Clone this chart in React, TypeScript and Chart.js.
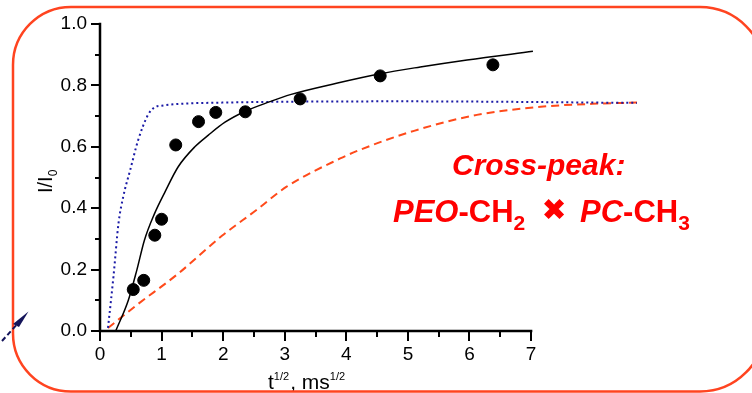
import React, { useEffect, useRef } from "react";
import { Chart, registerables } from "chart.js";

Chart.register(...registerables);

// Measured cross-peak intensities (t^1/2 in ms^1/2, I/I0)
const measuredX = [0.54, 0.71, 0.89, 1.0, 1.23, 1.6, 1.88, 2.36, 3.25, 4.55, 6.38];
const measuredY = [0.135, 0.165, 0.312, 0.364, 0.606, 0.682, 0.712, 0.714, 0.756, 0.831, 0.867];

// Fitted build-up curve (solid)
const fitX = [0.255, 0.46, 0.6, 0.72, 0.88, 1.06, 1.27, 1.54, 1.76, 2.03, 2.35, 2.76, 3.09, 3.84, 4.55, 5.2, 5.96, 7.03];
const fitY = [0.0, 0.1, 0.2, 0.295, 0.38, 0.455, 0.535, 0.6, 0.638, 0.68, 0.715, 0.747, 0.77, 0.807, 0.838, 0.86, 0.883, 0.911];

// Fast-exchange model (dotted)
const fastX = [0.13, 0.22, 0.3, 0.38, 0.49, 0.62, 0.78, 0.89, 1.0, 2.0, 5.0, 8.72];
const fastY = [0.01, 0.18, 0.35, 0.44, 0.524, 0.622, 0.704, 0.729, 0.734, 0.744, 0.748, 0.743];

// Slow-exchange model (dashed)
const slowX = [0.13, 0.6, 1.27, 1.98, 2.54, 3.03, 3.9, 4.22, 5.1, 6.12, 7.2, 8.0, 8.72];
const slowY = [0.01, 0.085, 0.187, 0.31, 0.394, 0.47, 0.562, 0.59, 0.652, 0.704, 0.731, 0.74, 0.744];

const xTicks = [0, 1, 2, 3, 4, 5, 6, 7];
const xMinorTicks = [0.5, 1.5, 2.5, 3.5, 4.5, 5.5, 6.5];
const yTicks = [0, 0.2, 0.4, 0.6, 0.8, 1.0];
const yMinorTicks = [0.1, 0.3, 0.5, 0.7, 0.9];
const xAxisEnd = 7;
const xDataEnd = 8.72;

const pairs = (xs: number[], ys: number[]) => xs.map((x, i) => ({ x, y: ys[i] }));

const SANS = '"Liberation Sans", Arial, sans-serif';

type Run = { text: string; font: string; dy?: number; gap?: number };

function drawRuns(ctx: CanvasRenderingContext2D, x: number, y: number, runs: Run[]) {
  let cx = x;
  for (const r of runs) {
    ctx.font = r.font;
    ctx.fillText(r.text, cx, y + (r.dy || 0));
    cx += ctx.measureText(r.text).width + (r.gap || 0);
  }
  return cx;
}

const decorPlugin = {
  id: "decor",
  afterDraw(chart: any) {
    const ctx: CanvasRenderingContext2D = chart.ctx;
    const xs = chart.scales.x;
    const ys = chart.scales.y;
    const x0 = xs.getPixelForValue(0);
    const x7 = xs.getPixelForValue(xAxisEnd);
    const y0 = ys.getPixelForValue(0);
    const y1 = ys.getPixelForValue(1);

    ctx.save();
    // axis lines
    ctx.strokeStyle = "#000";
    ctx.lineWidth = 2.5;
    ctx.lineCap = "square";
    ctx.beginPath();
    ctx.moveTo(x0, y1);
    ctx.lineTo(x0, y0);
    ctx.lineTo(x7, y0);
    ctx.stroke();

    // tick marks
    ctx.lineCap = "butt";
    ctx.lineWidth = 2;
    ctx.beginPath();
    for (const v of yTicks) {
      const p = Math.round(ys.getPixelForValue(v));
      ctx.moveTo(x0 - 9, p);
      ctx.lineTo(x0, p);
    }
    for (const v of yMinorTicks) {
      const p = Math.round(ys.getPixelForValue(v));
      ctx.moveTo(x0 - 5, p);
      ctx.lineTo(x0, p);
    }
    for (const v of xTicks) {
      const p = Math.round(xs.getPixelForValue(v));
      ctx.moveTo(p, y0);
      ctx.lineTo(p, y0 + 10);
    }
    for (const v of xMinorTicks) {
      const p = Math.round(xs.getPixelForValue(v));
      ctx.moveTo(p, y0);
      ctx.lineTo(p, y0 + 6);
    }
    ctx.stroke();

    // axis titles
    ctx.fillStyle = "#000";
    ctx.textBaseline = "alphabetic";
    ctx.textAlign = "left";
    drawRuns(ctx, 268, 389, [
      { text: "t", font: `21px ${SANS}` },
      { text: "1/2", font: `11px ${SANS}`, dy: -9, gap: 1 },
      { text: ", ms", font: `21px ${SANS}` },
      { text: "1/2", font: `11px ${SANS}`, dy: -9 },
    ]);

    ctx.save();
    ctx.translate(52, 193);
    ctx.rotate(-Math.PI / 2);
    drawRuns(ctx, 0, 0, [
      { text: "I/I", font: `20px ${SANS}` },
      { text: "0", font: `12px ${SANS}`, dy: 5 },
    ]);
    ctx.restore();

    // annotation
    ctx.fillStyle = "#ff0000";
    ctx.font = `italic bold 30px ${SANS}`;
    ctx.fillText("Cross-peak:", 452, 175);
    drawRuns(ctx, 393, 222, [
      { text: "PEO", font: `italic bold 31px ${SANS}` },
      { text: "-CH", font: `bold 31px ${SANS}` },
      { text: "2", font: `bold 21px ${SANS}`, dy: 8 },
    ]);
    ctx.textAlign = "center";
    ctx.textBaseline = "middle";
    ctx.font = `bold 30px "DejaVu Sans", sans-serif`;
    ctx.fillText("\u2716", 554, 212);
    ctx.textAlign = "left";
    ctx.textBaseline = "alphabetic";
    drawRuns(ctx, 580, 222, [
      { text: "PC", font: `italic bold 31px ${SANS}` },
      { text: "-CH", font: `bold 31px ${SANS}` },
      { text: "3", font: `bold 21px ${SANS}`, dy: 8 },
    ]);

    // rounded frame, running off the right edge
    ctx.strokeStyle = "#ff4420";
    ctx.lineWidth = 2.5;
    ctx.beginPath();
    ctx.roundRect(13, 7, 752, 384.5, [58, 65, 65, 58]);
    ctx.stroke();

    // small pointer arrow at lower left
    ctx.strokeStyle = "#14145a";
    ctx.fillStyle = "#14145a";
    ctx.lineWidth = 2;
    ctx.setLineDash([5, 3]);
    ctx.beginPath();
    ctx.moveTo(2, 341);
    ctx.lineTo(20, 321);
    ctx.stroke();
    ctx.setLineDash([]);
    ctx.beginPath();
    ctx.moveTo(28.5, 311.5);
    ctx.lineTo(13, 324);
    ctx.lineTo(19, 327);
    ctx.closePath();
    ctx.fill();
    ctx.restore();
  },
};

export default function App() {
  const ref = useRef<HTMLCanvasElement | null>(null);

  useEffect(() => {
    if (!ref.current) return;
    const chart = new Chart(ref.current, {
      type: "scatter",
      data: {
        datasets: [
          {
            label: "measured",
            data: pairs(measuredX, measuredY),
            backgroundColor: "#000",
            borderColor: "#000",
            pointRadius: 6,
            showLine: false,
          },
          {
            label: "fit",
            data: pairs(fitX, fitY),
            borderColor: "#000",
            borderWidth: 1.5,
            pointRadius: 0,
            showLine: true,
            cubicInterpolationMode: "monotone",
          },
          {
            label: "fast",
            data: pairs(fastX, fastY),
            borderColor: "#1a1aa6",
            borderWidth: 2,
            borderDash: [2, 3],
            pointRadius: 0,
            showLine: true,
            cubicInterpolationMode: "monotone",
          },
          {
            label: "slow",
            data: pairs(slowX, slowY),
            borderColor: "#ff4a1a",
            borderWidth: 2,
            borderDash: [8, 5],
            pointRadius: 0,
            showLine: true,
            cubicInterpolationMode: "monotone",
          },
        ],
      },
      options: {
        animation: false,
        responsive: false,
        devicePixelRatio: 1,
        layout: { padding: { left: 0, right: 115, top: 24, bottom: 0 } },
        plugins: { legend: { display: false }, tooltip: { enabled: false } },
        scales: {
          x: {
            type: "linear",
            min: 0,
            max: xDataEnd,
            grid: { display: false, drawTicks: true, tickLength: 10 },
            border: { display: false },
            ticks: {
              color: "#000",
              font: { family: SANS, size: 19 },
              padding: 2,
              maxRotation: 0,
              autoSkip: false,
              callback: (v: any) => String(v),
            },
            afterBuildTicks: (scale: any) => {
              scale.ticks = xTicks.map((value) => ({ value }));
            },
            afterFit: (scale: any) => {
              scale.height = 62;
              scale.paddingLeft = 0;
              scale.paddingRight = 0;
            },
          },
          y: {
            type: "linear",
            min: 0,
            max: 1,
            grid: { display: false, drawTicks: true, tickLength: 9 },
            border: { display: false },
            ticks: {
              color: "#000",
              font: { family: SANS, size: 19 },
              padding: 4,
              autoSkip: false,
              callback: (v: any) => Number(v).toFixed(1),
            },
            afterBuildTicks: (scale: any) => {
              scale.ticks = yTicks.map((value) => ({ value }));
            },
            afterFit: (scale: any) => {
              scale.width = 100;
              scale.paddingTop = 0;
              scale.paddingBottom = 0;
            },
          },
        },
      },
      plugins: [decorPlugin],
    });
    return () => chart.destroy();
  }, []);

  return (
    <div style={{ position: "fixed", left: 0, top: 0, width: 752, height: 393, background: "#fff" }}>
      <canvas ref={ref} width={752} height={393} style={{ display: "block", width: 752, height: 393 }} />
    </div>
  );
}
